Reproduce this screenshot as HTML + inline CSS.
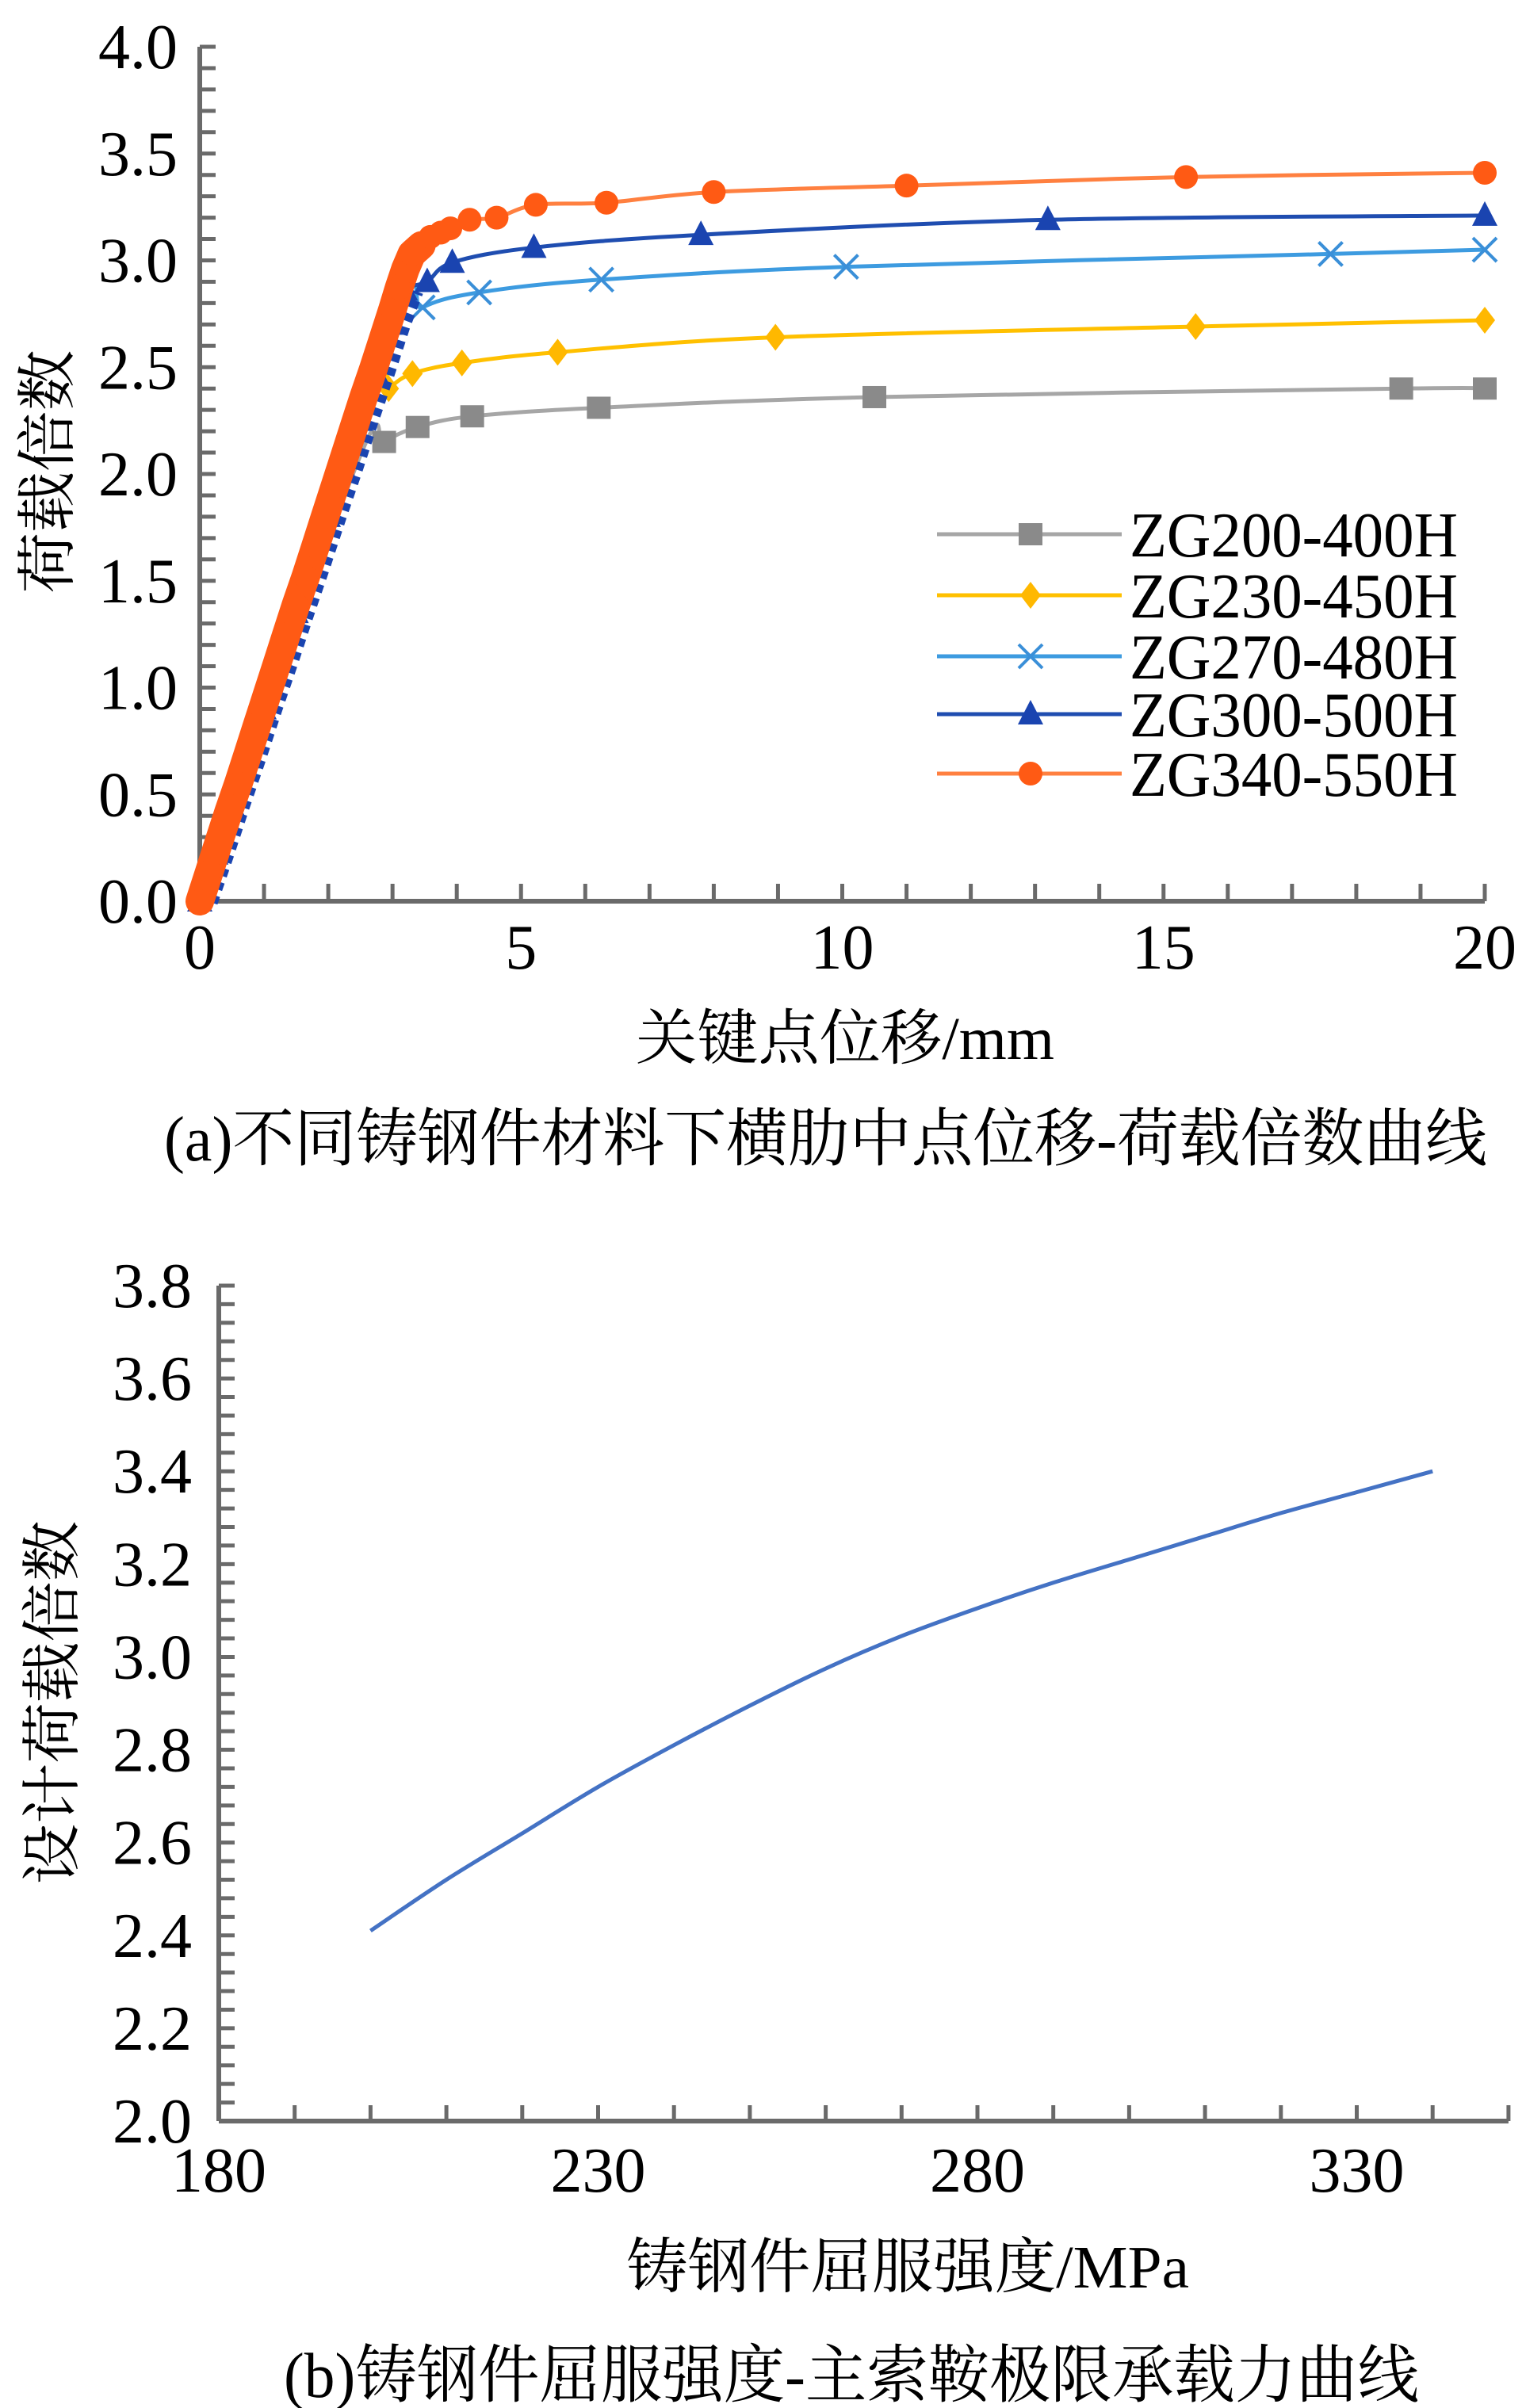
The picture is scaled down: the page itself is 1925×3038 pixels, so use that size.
<!DOCTYPE html>
<html><head><meta charset="utf-8">
<style>
html,body{margin:0;padding:0;background:#fff;}
svg{display:block;}
text{font-family:"Liberation Serif","Noto Serif CJK SC",serif;fill:#000;}
</style></head>
<body>
<svg id="svg" width="1925" height="3038" viewBox="0 0 1925 3038" xmlns="http://www.w3.org/2000/svg">
<g id="chartA"></g>
<g id="chartB"></g>
</svg>
<script>
// ===== Chart (a) data =====
const aXTicks = [0, 5, 10, 15, 20];
const aYTicks = [0.0, 0.5, 1.0, 1.5, 2.0, 2.5, 3.0, 3.5, 4.0];
const aYTickLabels = ["0.0","0.5","1.0","1.5","2.0","2.5","3.0","3.5","4.0"];
const seriesNames = ["ZG200-400H","ZG230-450H","ZG270-480H","ZG300-500H","ZG340-550H"];
const s1x = [0, 2.45, 2.87, 3.39, 4.24, 6.21, 10.5, 18.7, 20];
const s1y = [0, 2.05, 2.15, 2.22, 2.27, 2.31, 2.36, 2.40, 2.40];
const s1m = [false, false, true, true, true, true, true, true, true];
const s2x = [0, 2.6, 2.94, 3.31, 4.08, 5.57, 8.96, 15.5, 20];
const s2y = [0, 2.30, 2.40, 2.47, 2.52, 2.57, 2.64, 2.69, 2.72];
const s2m = [false, false, true, true, true, true, true, true, true];
const s3x = [0, 3.0, 3.47, 4.35, 6.25, 10.06, 17.6, 20];
const s3y = [0, 2.65, 2.78, 2.85, 2.91, 2.97, 3.03, 3.05];
const s3m = [false, false, true, true, true, true, true, true];
const s4x = [0, 0.25, 0.5, 0.75, 1.0, 1.25, 1.5, 1.75, 2.0, 2.25, 2.5, 2.75, 3.0, 3.2, 3.54, 3.93, 5.2, 7.8, 13.2, 20];
const s4y = [0, 0.22, 0.45, 0.67, 0.90, 1.12, 1.35, 1.57, 1.80, 2.02, 2.25, 2.47, 2.70, 2.86, 2.90, 2.99, 3.06, 3.12, 3.19, 3.21];
const s5x = [0, 0.15, 0.3, 0.45, 0.6, 0.75, 0.9, 1.05, 1.2, 1.35, 1.5, 1.65, 1.8, 1.95, 2.1, 2.25, 2.4, 2.55, 2.7, 2.85, 3.0, 3.1, 3.2, 3.3, 3.45, 3.59, 3.75, 3.9, 4.2, 4.62, 5.23, 6.33, 8.0, 11.0, 15.35, 20];
const s5y = [0, 0.14, 0.28, 0.42, 0.55, 0.69, 0.83, 0.97, 1.11, 1.25, 1.39, 1.52, 1.66, 1.80, 1.94, 2.08, 2.22, 2.36, 2.49, 2.63, 2.77, 2.87, 2.96, 3.03, 3.07, 3.11, 3.13, 3.15, 3.19, 3.20, 3.26, 3.27, 3.32, 3.35, 3.39, 3.41];
const s5bandEnd = 25;

// ===== Chart (b) data =====
const bXTicks = [180, 230, 280, 330];
const bYTicks = [2.0, 2.2, 2.4, 2.6, 2.8, 3.0, 3.2, 3.4, 3.6, 3.8];
const bYTickLabels = ["2.0","2.2","2.4","2.6","2.8","3.0","3.2","3.4","3.6","3.8"];
const bX = [200, 210, 220, 230, 240, 250, 260, 270, 280, 290, 300, 310, 320, 330, 340];
const bY = [2.41, 2.52, 2.62, 2.72, 2.81, 2.895, 2.975, 3.045, 3.105, 3.16, 3.21, 3.26, 3.31, 3.355, 3.40];

const NS = "http://www.w3.org/2000/svg";
const FONT = '"Liberation Serif", "Noto Serif CJK SC", serif';
function mk(parent, tag, attrs, text) {
  const e = document.createElementNS(NS, tag);
  for (const k in attrs) e.setAttribute(k, attrs[k]);
  if (tag === 'text') e.setAttribute('font-family', FONT);
  if (text !== undefined) e.textContent = text;
  parent.appendChild(e);
  return e;
}
function smoothPath(pts) {
  let d = `M${pts[0][0].toFixed(1)},${pts[0][1].toFixed(1)}`;
  for (let i = 0; i < pts.length - 1; i++) {
    const p0 = pts[i - 1] || pts[i], p1 = pts[i], p2 = pts[i + 1], p3 = pts[i + 2] || p2;
    const c1x = p1[0] + (p2[0] - p0[0]) / 6, c1y = p1[1] + (p2[1] - p0[1]) / 6;
    const c2x = p2[0] - (p3[0] - p1[0]) / 6, c2y = p2[1] - (p3[1] - p1[1]) / 6;
    d += `C${c1x.toFixed(1)},${c1y.toFixed(1)} ${c2x.toFixed(1)},${c2y.toFixed(1)} ${p2[0].toFixed(1)},${p2[1].toFixed(1)}`;
  }
  return d;
}

// ---- Chart A ----
const A = document.getElementById('chartA');
const ax0 = 252, ax1 = 1873, ay0 = 1137, ay1 = 59;
const axX = v => ax0 + (v - 0) / 20 * (ax1 - ax0);
const axY = v => ay0 - (v - 0) / 4 * (ay0 - ay1);
const axisCol = "#6a6a6a";

for (let i = 0; i <= 40; i++) {
  const y = axY(i * 0.1);
  const t = mk(A, 'line', {x1: ax0, x2: ax0 + 20, y1: y, y2: y, stroke: axisCol, 'stroke-width': 5});
  
  
}
for (let i = 1; i <= 20; i++) {
  const x = axX(i);
  const t = mk(A, 'line', {x1: x, x2: x, y1: ay0, y2: ay0 - 22, stroke: axisCol, 'stroke-width': 5});
  
  
}
{
  const l = mk(A, 'line', {x1: ax0, x2: ax0, y1: ay1, y2: ay0, stroke: axisCol, 'stroke-width': 6});
  
  
  const l2 = mk(A, 'line', {x1: ax0, x2: ax1, y1: ay0, y2: ay0, stroke: axisCol, 'stroke-width': 6});
  
  
}
aYTicks.forEach((v, i) => {
  const t = mk(A, 'text', {x: 224, y: axY(v) + 27, 'text-anchor': 'end', 'font-size': 80}, aYTickLabels[i]);
  
  
});
aXTicks.forEach(v => {
  const t = mk(A, 'text', {x: axX(v), y: 1222, 'text-anchor': 'middle', 'font-size': 80}, String(v));
  
  
});

function marker(g, type, x, y, col) {
  let e;
  if (type === 'square') e = mk(g, 'rect', {x: x - 15, y: y - 14, width: 30, height: 28, fill: col});
  else if (type === 'diamond') e = mk(g, 'polygon', {points: `${x},${y-17} ${x+13},${y} ${x},${y+17} ${x-13},${y}`, fill: col});
  else if (type === 'x') e = mk(g, 'path', {d: `M${x-15},${y-15}L${x+15},${y+15}M${x+15},${y-15}L${x-15},${y+15}`, stroke: col, 'stroke-width': 4, fill: 'none'});
  else if (type === 'tri') e = mk(g, 'polygon', {points: `${x},${y-18} ${x+16},${y+13} ${x-16},${y+13}`, fill: col});
  else e = mk(g, 'circle', {cx: x, cy: y, r: 15, fill: col});
  
  
}
const series = [
  {xs: s1x, ys: s1y, ms: s1m, line: '#a6a6a6', mc: '#8a8a8a', type: 'square'},
  {xs: s2x, ys: s2y, ms: s2m, line: '#ffc000', mc: '#ffb800', type: 'diamond'},
  {xs: s3x, ys: s3y, ms: s3m, line: '#3d9be0', mc: '#3a8fd8', type: 'x'},
  {xs: s4x, ys: s4y, ms: null, line: '#1f4db0', mc: '#1a44b0', type: 'tri'},
  {xs: s5x, ys: s5y, ms: null, line: '#ff8040', mc: '#ff5a14', type: 'circle'}
];
series.forEach((s, si) => {
  const g = mk(A, 'g', {});
  
  
  const pts = s.xs.map((x, i) => [axX(x), axY(s.ys[i])]);
  const pl = mk(g, 'path', {d: smoothPath(pts), fill: 'none', stroke: s.line, 'stroke-width': 5, 'stroke-linejoin': 'round'});
  
  
  if (si === 3) {
    const bp = pts.slice(0, 14).map(p => (p[0] + 10).toFixed(1) + ',' + p[1].toFixed(1)).join(' ');
    const band = mk(g, 'polyline', {points: bp, fill: 'none', stroke: s.mc, 'stroke-width': 26, 'stroke-dasharray': '10 8'});
    
    
  }
  if (si === 4) {
    const bp = pts.slice(0, s5bandEnd).map(p => p[0].toFixed(1) + ',' + p[1].toFixed(1)).join(' ');
    const band = mk(g, 'polyline', {points: bp, fill: 'none', stroke: s.mc, 'stroke-width': 36, 'stroke-linejoin': 'round', 'stroke-linecap': 'round'});
    
    
  }
  s.xs.forEach((x, i) => {
    if (s.ms && !s.ms[i]) return;
    marker(g, s.type, axX(x), axY(s.ys[i]), s.mc);
  });
});

const legY = [674, 751, 828, 901, 976];
series.forEach((s, i) => {
  const g = mk(A, 'g', {});
  
  
  mk(g, 'line', {x1: 1182, x2: 1415, y1: legY[i], y2: legY[i], stroke: s.line, 'stroke-width': 5});
  marker(g, s.type, 1300, legY[i], s.mc);
  const t = mk(g, 'text', {x: 1425, y: legY[i] + 28, 'font-size': 80, textLength: 414, lengthAdjust: 'spacingAndGlyphs'}, seriesNames[i]);
  
  
});
{
  const t = mk(A, 'text', {x: 802, y: 1336, 'font-size': 76, textLength: 528, lengthAdjust: 'spacingAndGlyphs'}, '关键点位移/mm');
  
  
  const yt = mk(A, 'text', {x: 0, y: 0, 'font-size': 76, 'text-anchor': 'middle', transform: 'translate(86,595) rotate(-90)', textLength: 307, lengthAdjust: 'spacingAndGlyphs'}, '荷载倍数');
  
  
  const c = mk(A, 'text', {x: 207, y: 1464, 'font-size': 80, textLength: 1669, lengthAdjust: 'spacingAndGlyphs'}, '(a)不同铸钢件材料下横肋中点位移-荷载倍数曲线');
  
  
}

// ---- Chart B ----
const B = document.getElementById('chartB');
const bx0 = 276, by0 = 2676, by1 = 1622;
const bxS = v => bx0 + (v - 180) * 9.57;
const byS = v => by0 - (v - 2.0) / 1.8 * (by0 - by1);
const bxEnd = bxS(350);
for (let i = 0; i <= 45; i++) {
  const y = byS(2.0 + i * 0.04);
  const t = mk(B, 'line', {x1: bx0, x2: bx0 + 20, y1: y, y2: y, stroke: axisCol, 'stroke-width': 5});
  
  
}
for (let v = 190; v <= 350; v += 10) {
  const x = bxS(v);
  const t = mk(B, 'line', {x1: x, x2: x, y1: by0, y2: by0 - 20, stroke: axisCol, 'stroke-width': 5});
  
  
}
{
  const l = mk(B, 'line', {x1: bx0, x2: bx0, y1: by1, y2: by0, stroke: axisCol, 'stroke-width': 6});
  
  
  const l2 = mk(B, 'line', {x1: bx0, x2: bxEnd, y1: by0, y2: by0, stroke: axisCol, 'stroke-width': 6});
  
  
}
bYTicks.forEach((v, i) => {
  const t = mk(B, 'text', {x: 242, y: byS(v) + 27, 'text-anchor': 'end', 'font-size': 80}, bYTickLabels[i]);
  
  
});
bXTicks.forEach(v => {
  const t = mk(B, 'text', {x: bxS(v), y: 2765, 'text-anchor': 'middle', 'font-size': 80}, String(v));
  
  
});
{
  const pts = bX.map((x, i) => [bxS(x), byS(bY[i])]);
  const pl = mk(B, 'path', {d: smoothPath(pts), fill: 'none', stroke: '#4472c4', 'stroke-width': 5, 'stroke-linejoin': 'round'});
  
  
  const t = mk(B, 'text', {x: 790, y: 2886, 'font-size': 76, textLength: 710, lengthAdjust: 'spacingAndGlyphs'}, '铸钢件屈服强度/MPa');
  
  
  const yt = mk(B, 'text', {x: 0, y: 0, 'font-size': 76, 'text-anchor': 'middle', transform: 'translate(92,2148) rotate(-90)', textLength: 459, lengthAdjust: 'spacingAndGlyphs'}, '设计荷载倍数');
  
  
  const c = mk(B, 'text', {x: 358, y: 3024, 'font-size': 80, textLength: 1432, lengthAdjust: 'spacingAndGlyphs'}, '(b)铸钢件屈服强度-主索鞍极限承载力曲线');
  
  
}
</script>
</body></html>
